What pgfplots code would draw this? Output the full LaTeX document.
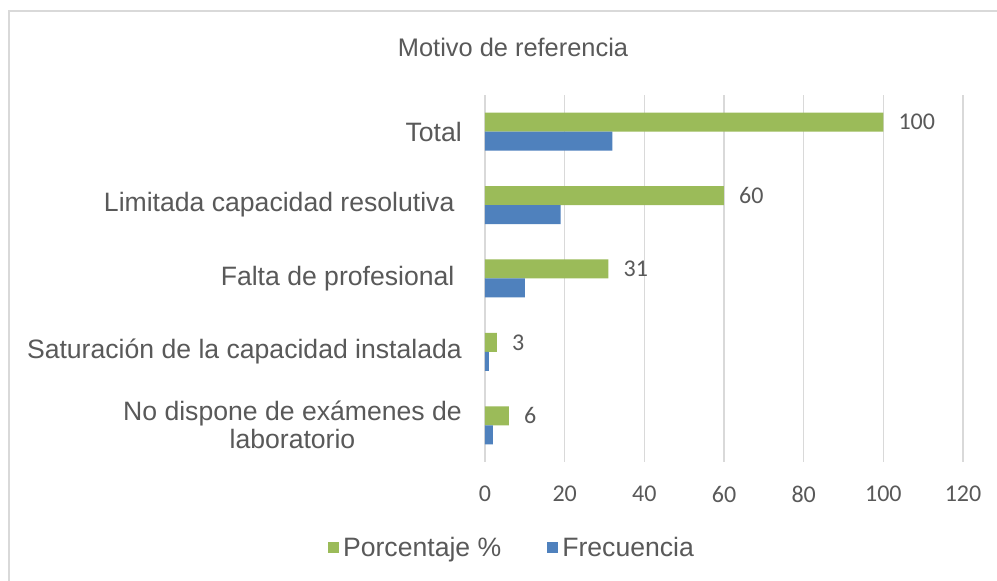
\documentclass[border=0pt]{standalone}
\usepackage{pgfplots}
\pgfplotsset{compat=1.18}
\usepackage{fontspec}
\setmainfont{Liberation Sans}
\newfontfamily\calibri{Carlito}
\definecolor{grn}{HTML}{9BBB59}
\definecolor{blu}{HTML}{4F81BD}
\definecolor{txt}{HTML}{595959}
\definecolor{grd}{HTML}{D9D9D9}
\begin{document}
\begin{tikzpicture}
\path[use as bounding box, fill=white] (0,0) rectangle (997pt,581pt);
\draw[grd, line width=1.2pt] (9pt,0) -- (9pt,570pt) -- (997pt,570pt);
\node[text=txt, font=\fontsize{25.4}{30}\selectfont] at (513pt,534pt) {Motivo de referencia};
\begin{axis}[
  at={(485pt,119pt)}, anchor=south west,
  scale only axis, width=478pt, height=367pt,
  xbar, bar width=19pt,
  xmin=0, xmax=120, xtick={0,20,...,120},
  ymin=-0.5, ymax=4.5, ytick={0,1,2,3,4},
  yticklabels={{No dispone de exámenes de\\laboratorio}, {Saturación de la capacidad instalada}, {Falta de profesional\ }, {Limitada capacidad resolutiva\ }, {Total}},
  axis line style={draw=none},
  tick style={draw=none},
  major tick length=0pt,
  xmajorgrids, ymajorgrids=false,
  grid style={grd, line width=1.3pt},
  /pgf/number format/assume math mode=true,
  yticklabel style={align=center, anchor=east, inner sep=0pt, xshift=-23pt, font=\fontsize{26.6}{28}\selectfont, text=txt},
  xticklabel style={font=\calibri\fontsize{24}{28}\selectfont, text=txt, anchor=center, inner sep=0pt, yshift=-32pt},
  legend style={at={(0.0565,-0.2343)}, anchor=center, draw=none, fill=none, legend columns=2, font=\fontsize{26.6}{30}\selectfont, text=txt, /tikz/every even column/.append style={column sep=44pt}},
  legend image code/.code={\fill[#1] (0pt,-5.5pt) rectangle (11pt,5.5pt);},
]
\addplot[fill=grn, draw=none, bar shift=9.5pt, point meta=x, nodes near coords, nodes near coords style={font=\calibri\fontsize{24}{28}\selectfont, text=txt, anchor=west, inner sep=0pt, xshift=15pt}] coordinates {(6,0) (3,1) (31,2) (60,3) (100,4)};
\addplot[fill=blu, draw=none, bar shift=-9.5pt] coordinates {(2,0) (1,1) (10,2) (19,3) (32,4)};
\legend{\hspace{2pt}Porcentaje \%, \hspace{2pt}Frecuencia}
\end{axis}
\end{tikzpicture}
\end{document}
